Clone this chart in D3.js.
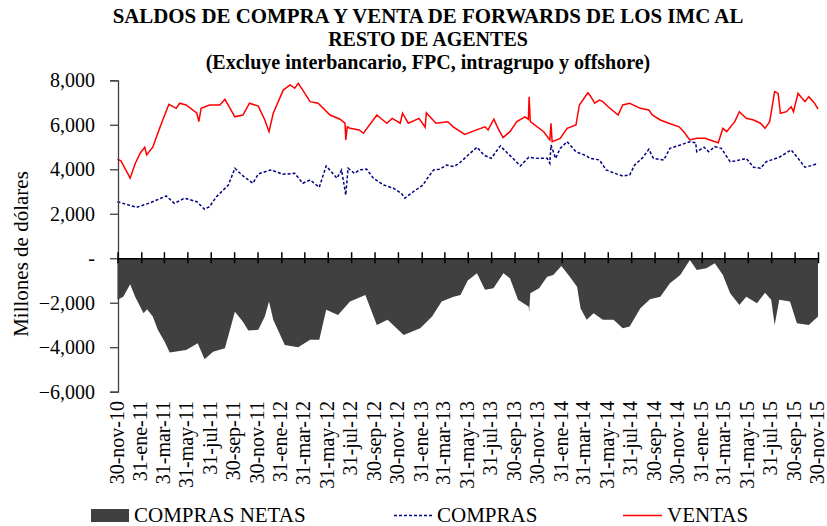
<!DOCTYPE html>
<html><head><meta charset="utf-8">
<script src="https://cdn.jsdelivr.net/npm/d3@7"></script>
<style>body{margin:0;background:#fff;} svg{display:block;} svg text{font-family:"Liberation Serif","Times New Roman","DejaVu Serif",serif !important;fill:#000;}</style>
</head><body><svg id="c" width="827" height="526" font-family="Liberation Serif"></svg>
<script>
const titleLines = ["SALDOS DE COMPRA Y VENTA DE FORWARDS DE LOS IMC AL","RESTO DE AGENTES","(Excluye interbancario, FPC, intragrupo y offshore)"];
const yAxisTitle = "Millones de dólares";
const yTicks = [8000,6000,4000,2000,0,-2000,-4000,-6000];
const tickLabels = ["30-nov-10","31-ene-11","31-mar-11","31-may-11","31-jul-11","30-sep-11","30-nov-11","31-ene-12","31-mar-12","31-may-12","31-jul-12","30-sep-12","30-nov-12","31-ene-13","31-mar-13","31-may-13","31-jul-13","30-sep-13","30-nov-13","31-ene-14","31-mar-14","31-may-14","31-jul-14","30-sep-14","30-nov-14","31-ene-15","31-mar-15","31-may-15","31-jul-15","30-sep-15","30-nov-15"];
const seriesNames = ["COMPRAS NETAS","COMPRAS","VENTAS"];

const ventasDates = ["2010-11-30","2010-12-09","2011-01-02","2011-01-15","2011-01-28","2011-02-09","2011-02-14","2011-03-02","2011-03-15","2011-03-28","2011-04-13","2011-05-02","2011-05-11","2011-05-28","2011-06-25","2011-06-30","2011-07-06","2011-07-28","2011-08-24","2011-09-06","2011-10-02","2011-10-23","2011-11-09","2011-12-02","2011-12-19","2011-12-30","2012-01-10","2012-02-05","2012-02-23","2012-03-06","2012-03-15","2012-03-27","2012-04-15","2012-05-06","2012-06-06","2012-07-02","2012-07-15","2012-07-17","2012-07-21","2012-07-28","2012-08-21","2012-09-01","2012-10-06","2012-11-01","2012-11-15","2012-12-06","2012-12-12","2012-12-27","2013-01-24","2013-02-09","2013-02-12","2013-03-09","2013-04-09","2013-04-23","2013-05-23","2013-06-23","2013-07-15","2013-07-23","2013-08-07","2013-08-18","2013-08-31","2013-09-18","2013-10-06","2013-10-27","2013-11-05","2013-11-07","2013-11-10","2013-12-15","2013-12-31","2014-01-03","2014-01-06","2014-01-27","2014-02-14","2014-03-09","2014-03-18","2014-04-09","2014-04-14","2014-04-27","2014-05-09","2014-05-18","2014-06-01","2014-06-27","2014-07-09","2014-07-27","2014-08-24","2014-09-15","2014-09-24","2014-10-15","2014-11-06","2014-12-03","2014-12-15","2014-12-31","2015-01-18","2015-02-09","2015-02-27","2015-03-15","2015-03-27","2015-04-06","2015-04-27","2015-05-09","2015-05-27","2015-06-15","2015-07-03","2015-07-15","2015-07-27","2015-08-09","2015-08-18","2015-08-24","2015-09-09","2015-09-21","2015-09-27","2015-10-09","2015-10-27","2015-11-06","2015-11-21","2015-11-30"];
const ventasValues = [4450,4380,3600,4250,4720,4990,4650,4990,5620,6215,6920,6740,6970,6890,6520,6140,6740,6890,6890,7145,6360,6440,6970,6840,6215,5690,6520,7560,7790,7640,7865,7560,7040,6970,6440,6250,6070,5320,5910,5840,5770,5620,6440,6070,6290,6070,6520,6070,6290,5890,6540,6070,6140,5910,5570,5770,5910,5770,6250,5840,5420,5690,6140,6360,6250,7260,6140,5690,5320,6070,5240,5390,5840,5990,6890,7440,7340,6970,7110,7040,6810,6440,6890,6970,6740,6665,6440,6215,6070,5910,5690,5320,5390,5390,5285,5195,5840,5690,6140,6590,6290,6215,6070,5840,6140,7490,7410,6520,6590,6810,6590,7410,7040,7260,6970,6710];

const comprasDates = ["2010-11-30","2011-01-19","2011-02-24","2011-04-06","2011-04-27","2011-05-24","2011-06-25","2011-07-15","2011-07-28","2011-08-15","2011-09-15","2011-10-02","2011-10-23","2011-11-18","2011-12-02","2012-01-03","2012-02-05","2012-03-06","2012-03-27","2012-04-15","2012-05-09","2012-05-27","2012-06-24","2012-07-06","2012-07-17","2012-07-23","2012-08-09","2012-08-21","2012-09-09","2012-09-27","2012-10-24","2012-11-18","2012-12-09","2012-12-18","2013-01-09","2013-02-03","2013-02-15","2013-03-03","2013-03-18","2013-04-06","2013-04-24","2013-05-09","2013-06-01","2013-06-24","2013-07-12","2013-07-31","2013-08-24","2013-09-12","2013-09-30","2013-10-15","2013-11-06","2013-11-30","2013-12-24","2013-12-31","2014-01-03","2014-01-15","2014-01-27","2014-02-14","2014-03-09","2014-04-06","2014-04-15","2014-05-09","2014-05-27","2014-06-18","2014-07-09","2014-07-27","2014-08-09","2014-08-31","2014-09-15","2014-09-27","2014-10-24","2014-11-09","2014-12-06","2014-12-31","2015-01-15","2015-01-18","2015-02-06","2015-02-18","2015-03-06","2015-03-23","2015-04-15","2015-05-03","2015-05-27","2015-06-15","2015-07-03","2015-07-18","2015-08-21","2015-09-21","2015-10-09","2015-10-27","2015-11-18","2015-11-30"];
const comprasValues = [2540,2290,2500,2800,2470,2700,2540,2200,2320,2770,3290,4045,3700,3370,3790,3970,3775,3820,3370,3520,3190,4150,3600,3970,2845,4045,3820,3970,4010,3600,3290,3150,2920,2700,2990,3290,3600,3970,4000,4190,4120,4270,4640,4990,4640,4490,5050,4720,4420,4150,4540,4490,4490,4270,5090,4490,4940,5240,4790,4600,4490,4420,3970,3820,3700,3740,4190,4540,4900,4490,4420,4940,5090,5240,5195,4790,4990,4790,5015,4940,4340,4390,4490,4090,4045,4340,4540,4870,4490,4090,4190,4270];

const netasDates = ["2010-11-30","2010-12-15","2011-01-02","2011-01-15","2011-02-06","2011-02-15","2011-03-02","2011-03-15","2011-04-02","2011-04-15","2011-05-28","2011-06-27","2011-07-15","2011-08-06","2011-09-06","2011-10-02","2011-10-23","2011-11-06","2011-12-02","2011-12-19","2011-12-30","2012-01-10","2012-02-09","2012-03-15","2012-04-15","2012-05-09","2012-05-27","2012-06-27","2012-07-28","2012-09-06","2012-10-06","2012-11-03","2012-12-15","2013-01-27","2013-02-27","2013-03-24","2013-04-24","2013-05-12","2013-05-31","2013-06-24","2013-07-15","2013-08-06","2013-09-01","2013-09-18","2013-10-09","2013-11-06","2013-11-07","2013-11-10","2013-12-03","2013-12-24","2014-01-09","2014-01-30","2014-02-21","2014-03-12","2014-03-21","2014-04-06","2014-04-24","2014-05-18","2014-06-15","2014-07-09","2014-07-27","2014-08-24","2014-09-18","2014-10-15","2014-11-09","2014-12-06","2014-12-31","2015-01-18","2015-02-12","2015-03-06","2015-03-27","2015-04-15","2015-05-09","2015-05-27","2015-06-24","2015-07-15","2015-07-31","2015-08-09","2015-08-21","2015-09-18","2015-10-06","2015-11-06","2015-11-30"];
const netasValues = [-1870,-1730,-1170,-1730,-2470,-2290,-2620,-3220,-3750,-4240,-4120,-3820,-4540,-4200,-4045,-2400,-2850,-3250,-3220,-2620,-1950,-2770,-3900,-4000,-3670,-3670,-2320,-2550,-1950,-1650,-3000,-2770,-3450,-3150,-2620,-1950,-1730,-1650,-1000,-670,-1420,-1350,-670,-900,-1870,-2180,-2450,-1570,-1350,-830,-750,-350,-830,-1280,-2250,-2770,-2470,-2770,-2770,-3150,-3070,-2250,-1840,-1730,-1120,-750,-80,-530,-450,-225,-750,-1570,-2100,-1730,-2020,-1550,-1870,-3000,-1870,-1950,-2920,-3000,-2620];

const parse = d3.timeParse("%Y-%m-%d");
const mesMap = {ene:0,feb:1,mar:2,abr:3,may:4,jun:5,jul:6,ago:7,sep:8,oct:9,nov:10,dic:11};
const parseLabel = s => { const [d,m,y] = s.split("-"); return new Date(2000+ +y, mesMap[m], +d); };
const zip = (ds, vs) => ds.map((d,i)=>({date:parse(d), v:vs[i]}));
const ventas = zip(ventasDates, ventasValues);
const compras = zip(comprasDates, comprasValues);
const netas = zip(netasDates, netasValues);
const tickDates = tickLabels.map(parseLabel);

const FONT = "'Liberation Serif','Times New Roman',serif";
const svg = d3.select("#c");
const x = d3.scaleTime().domain([tickDates[0], tickDates[tickDates.length-1]]).range([117.5, 818]);
const y = d3.scaleLinear().domain([-6000, 8000]).range([391.7, 80.3]);

// title
svg.append("g").selectAll("text").data(titleLines).join("text")
  .attr("x", 428).attr("y", (d,i)=>23 + i*23).attr("text-anchor","middle")
  .attr("font-family", FONT).style("font-weight","bold")
  .style("font-size",(d,i)=> i===0 ? "20.9px" : "20px").text(d=>d);

// area
svg.append("path").datum(netas)
  .attr("d", d3.area().x(d=>x(d.date)).y0(y(0)).y1(d=>y(d.v)))
  .attr("fill","#404040");

// lines
svg.append("path").datum(compras)
  .attr("d", d3.line().x(d=>x(d.date)).y(d=>y(d.v)))
  .attr("fill","none").attr("stroke","#000080").attr("stroke-width",1.5).attr("stroke-dasharray","3,2");
svg.append("path").datum(ventas)
  .attr("d", d3.line().x(d=>x(d.date)).y(d=>y(d.v)))
  .attr("fill","none").attr("stroke","#ff0000").attr("stroke-width",1.5);

// y axis
const fmt = v => v === 0 ? "-" : d3.format(",")(v);
const yAx = svg.append("g").attr("transform","translate(118,0)")
  .call(d3.axisLeft(y).tickValues(yTicks).tickSize(8).tickPadding(15).tickFormat(fmt))
  .attr("font-family", FONT).attr("font-size", 20);
yAx.select(".domain").attr("stroke","#404040").attr("stroke-width",1.3);
yAx.selectAll(".tick line").attr("stroke","#404040").attr("stroke-width",1.3);
yAx.selectAll("text").attr("font-family", FONT).style("font-size","20px");

// x axis line at zero with crossing ticks
const xAx = svg.append("g").attr("transform",`translate(0,${y(0)})`)
  .call(d3.axisBottom(x).tickValues(tickDates).tickSize(0).tickFormat(""));
xAx.select(".domain").attr("stroke","#000").attr("stroke-width",1.3);
xAx.selectAll(".tick line").attr("y1",-6).attr("y2",5).attr("stroke","#000").attr("stroke-width",1.5);

// x labels at bottom
svg.append("g").selectAll("text").data(tickDates).join("text")
  .attr("transform", (d)=>`translate(${x(d)},401) rotate(-90)`)
  .attr("text-anchor","end").attr("dy","0.3em")
  .attr("font-family", FONT).style("font-size","20px").text((d,i)=>tickLabels[i]);

// y axis title
svg.append("text").attr("transform","translate(21,254) rotate(-90)")
  .attr("text-anchor","middle").attr("dy","0.35em")
  .attr("font-family", FONT).style("font-size","21px").text(yAxisTitle);

// legend
const lg = svg.append("g").attr("font-family", FONT);
lg.append("rect").attr("x",91).attr("y",509).attr("width",38).attr("height",13).attr("fill","#404040");
lg.append("text").attr("x",134).attr("y",522).style("font-size","21px").text(seriesNames[0]);
lg.append("line").attr("x1",394).attr("x2",432).attr("y1",515.5).attr("y2",515.5)
  .attr("stroke","#000080").attr("stroke-width",1.5).attr("stroke-dasharray","3,2");
lg.append("text").attr("x",437).attr("y",522).style("font-size","21px").text(seriesNames[1]);
lg.append("line").attr("x1",623).attr("x2",662).attr("y1",515.5).attr("y2",515.5)
  .attr("stroke","#ff0000").attr("stroke-width",1.5);
lg.append("text").attr("x",667).attr("y",522).style("font-size","21px").text(seriesNames[2]);
</script></body></html>
